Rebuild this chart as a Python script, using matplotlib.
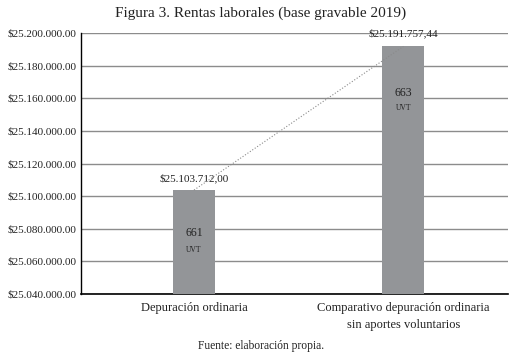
import matplotlib.pyplot as plt
import matplotlib.ticker as mticker

categories = ['Depuración ordinaria', 'Comparativo depuración ordinaria\nsin aportes voluntarios']
values = [25103712.00, 25191757.44]
value_labels = ['$25.103.712,00', '$25.191.757,44']
uvt = ['661', '663']

plt.rcParams['font.family'] = ['Liberation Serif', 'DejaVu Serif']

fig = plt.figure(figsize=(5.22, 3.56), dpi=100)
ax = fig.add_axes([81 / 522, 1 - 294 / 356, 427 / 522, 261 / 356])

x = list(range(len(categories)))
ax.bar(x, values, width=0.2, color='#939598', zorder=3)

# dotted trend line between bar tops
ax.plot(x, values, linestyle=':', color='#8a8a8a', linewidth=0.8, zorder=4)

ax.set_ylim(25040000, 25200000)
ax.set_xlim(-0.54, 1.5)
ax.yaxis.set_major_locator(mticker.MultipleLocator(20000))


def fmt(v, pos):
    s = f'{v:,.2f}'.replace(',', '.')
    return '$' + s


ax.yaxis.set_major_formatter(mticker.FuncFormatter(fmt))
ax.grid(axis='y', color='#8c8c8c', linewidth=1.0, zorder=0)
ax.tick_params(axis='y', length=0, labelsize=8, pad=3, colors='#222222')
ax.tick_params(axis='x', length=0, labelsize=9, pad=6, colors='#222222')
ax.set_xticks(x)
ax.set_xticklabels(categories, linespacing=1.5)

for side in ['top', 'right']:
    ax.spines[side].set_visible(False)
ax.spines['left'].set_linewidth(1.0)
ax.spines['bottom'].set_linewidth(1.2)

# value labels above bars
ax.annotate(value_labels[0], (x[0], values[0]), xytext=(0, 5), textcoords='offset points',
            ha='center', va='bottom', fontsize=8, color='#222222')
ax.annotate(value_labels[1], (x[1], values[1]), xytext=(0, 6), textcoords='offset points',
            ha='center', va='bottom', fontsize=8, color='#222222')

# UVT labels inside bars
ax.text(x[0], 25077400, uvt[0], ha='center', va='center', fontsize=8.5, color='#222222', zorder=5)
ax.text(x[0], 25067000, 'UVT', ha='center', va='center', fontsize=5.5, color='#222222', zorder=5)
ax.text(x[1], 25163200, uvt[1], ha='center', va='center', fontsize=8.5, color='#222222', zorder=5)
ax.text(x[1], 25154000, 'UVT', ha='center', va='center', fontsize=5.5, color='#222222', zorder=5)

fig.text(0.5, 1 - 13 / 356, 'Figura 3. Rentas laborales (base gravable 2019)',
         ha='center', va='center', fontsize=11, color='#222222')
fig.text(0.5, 1 - 346 / 356, 'Fuente: elaboración propia.',
         ha='center', va='center', fontsize=8.3, color='#222222')

fig.savefig('out.png', dpi=100)
